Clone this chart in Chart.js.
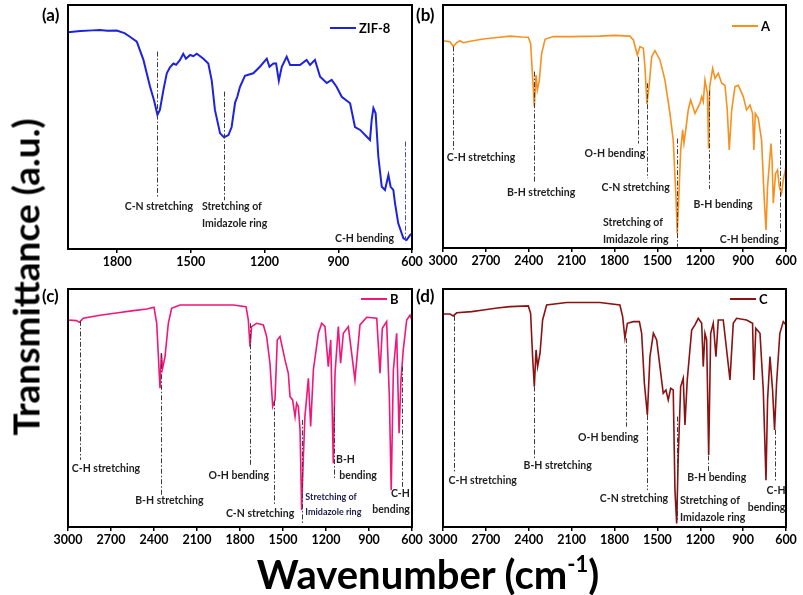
<!DOCTYPE html>
<html>
<head>
<meta charset="utf-8">
<script src="https://cdn.jsdelivr.net/npm/chart.js@4.4.1/dist/chart.umd.min.js"></script>
<style>
body{margin:0;background:#fff;width:803px;height:595px;overflow:hidden;position:relative;font-family:Lato,sans-serif;color:#000}
canvas{position:absolute}
.lab{position:absolute;font-weight:bold;font-size:17px;line-height:17px}
#ytitle{position:absolute;left:25px;top:277px;transform:translate(-50%,-50%) rotate(-90deg);font-size:37px;font-weight:bold;white-space:nowrap}
#xtitle{position:absolute;left:428px;top:574px;transform:translate(-50%,-50%);font-size:40px;font-weight:bold;white-space:nowrap}
#xtitle sup{font-size:22px;vertical-align:17px}
</style>
</head>
<body>
<canvas id="ca" width="384" height="275" style="left:48px;top:0px"></canvas>
<canvas id="cb" width="383" height="274" style="left:423px;top:0px"></canvas>
<canvas id="cc" width="384" height="269" style="left:48px;top:284px"></canvas>
<canvas id="cd" width="383" height="269" style="left:423px;top:284px"></canvas>
<div class="lab" style="left:42px;top:6px">(a)</div>
<div class="lab" style="left:416px;top:6px">(b)</div>
<div class="lab" style="left:42px;top:287px">(c)</div>
<div class="lab" style="left:416px;top:287px">(d)</div>
<div id="ytitle">Transmittance (a.u.)</div>
<div id="xtitle">Wavenumber (cm<sup>-1</sup>)</div>
<script>
// ---- data (transmittance in arbitrary units, 0 = bottom of frame, 100 = top)
var ticksA = [1800, 1500, 1200, 900, 600];
var ticksWide = [3000, 2700, 2400, 2100, 1800, 1500, 1200, 900, 600];

// ZIF-8
var aWn = [2000,1950,1900,1870,1840,1802,1770,1748,1720,1693,1666,1650,1636,1626,1612,1598,1585,1571,1560,1544,1531,1520,1503,1490,1476,1462,1449,1429,1415,1402,1381,1365,1347,1334,1320,1311,1300,1280,1246,1219,1191,1180,1164,1153,1142,1130,1110,1096,1056,1029,1015,995,974,947,927,907,886,852,832,811,784,771,764,757,748,737,723,710,696,687,676,669,656,635,622,608,600];
var aT  = [88.8,89.3,89.6,89.8,89.4,89.5,88.5,87,85,77.5,66.5,61,55,57,65,72,74.5,76,75.5,77.5,80,78,79.5,79,80,79,78,76,69,57,47.4,45.8,46.7,50,60,62.4,66.5,71,72,74.7,78,74.7,76,76,69,74.7,78.8,75.4,75.4,77.5,75.4,77.5,70.6,68,69.3,66.5,62.4,59.7,50,48.8,46,44.7,53,57.7,55.6,37.8,25.5,24.2,30.3,25.5,24.2,18.7,10.5,4.4,3.7,5.7,6.4];

// A
var bWn = [3000,2951,2928,2904,2881,2858,2800,2718,2620,2531,2450,2403,2387,2373,2361,2349,2340,2326,2310,2286,2228,2100,1902,1800,1692,1668,1640,1622,1598,1587,1573,1556,1540,1517,1482,1447,1412,1389,1370,1361,1351,1337,1323,1314,1300,1284,1267,1237,1202,1190,1179,1167,1150,1142,1134,1113,1097,1074,1050,1027,1011,997,980,957,934,899,876,852,834,825,815,794,771,752,740,729,705,697,689,673,659,647,631,619,600];
var bT  = [85.3,84.9,82.9,84.5,85.3,84.5,85.2,86,86.6,87.2,86.8,86.7,84.2,70.5,58.2,71.2,65,69,80,85.9,87,87,87.2,87.5,87.2,85.6,79.4,82.9,82.2,74.6,59.3,67.8,78.7,81.2,77.4,69.1,55.4,44.4,21.1,6,19.8,40.3,48.6,43.1,49.2,56.8,60.9,55.4,59.5,62.3,60.2,69.1,63.6,41,66.4,73.9,69.8,71.9,67.8,67,56.8,40.3,56.8,66.4,67,62.3,56.8,58.8,55.4,40.3,55.4,53.4,44.4,19.8,7.4,25.2,43,35.5,18.4,30.7,32.1,25.2,22.5,28,33.5];

// B
var cWn = [3000,2940,2921,2893,2777,2650,2544,2450,2400,2381,2367,2358,2349,2340,2323,2300,2277,2219,2033,1847,1758,1742,1730,1719,1684,1637,1614,1591,1572,1556,1540,1521,1486,1463,1451,1433,1416,1405,1393,1381,1370,1358,1347,1323,1307,1288,1253,1230,1207,1184,1167,1149,1137,1114,1098,1079,1044,998,963,916,846,823,807,777,758,745,730,707,690,677,661,637,614,600];
var cT  = [87,86.7,86,87.7,89,90,90.9,91.6,92.3,85.6,68.8,58.3,73,66.7,71.6,85.6,91.9,93.3,93.3,93.3,92.6,87,75.8,84.2,85.6,84.9,80,68.8,50.6,53.4,78.6,80,70.2,64.6,54.8,53.4,46.4,52,50.6,40.8,7.1,29.6,46.4,62.5,42.2,66,81.4,85.6,84.2,67.4,78.6,26.8,64.6,84.2,68.8,81.4,84.2,61.8,84.9,88.1,87.7,64.6,83.5,86.3,54.8,15.5,66,81.4,39.4,61.8,74.4,87,89,87];

// C
var dWn = [3000,2951,2928,2904,2800,2718,2620,2531,2403,2387,2373,2361,2349,2338,2321,2303,2275,2135,1902,1762,1743,1727,1710,1668,1626,1610,1591,1570,1552,1528,1505,1482,1459,1440,1424,1407,1389,1377,1365,1354,1337,1319,1307,1291,1260,1237,1214,1190,1179,1167,1155,1141,1127,1109,1090,1074,1039,992,969,946,876,834,825,811,782,759,740,729,712,694,680,666,643,619,600];
var dT  = [89.5,89.5,88.7,90,90.5,91.2,92,92.6,92.9,89.8,71.6,59,74.4,67.4,73,87,93.3,94.3,94.3,93.3,88.4,79.3,85.6,86.3,86.3,81.4,60.4,47.1,71.6,81.4,78.6,67.4,56.2,57.6,53.4,58.3,57.6,15.5,1.5,29.6,59,62.5,42.9,61.8,82.8,84.9,87.7,85.6,67.4,81.4,78.6,30.3,81.4,85.6,71.6,87,87,61.8,85.6,87.7,87,85.6,61.8,83.5,81.4,57.6,19.7,53.4,71.6,57.6,40.8,60.4,81.4,86.3,84.9];

// band marks: [wavenumber, from, to]
var aMarks = [[1639,80.9,21.4],[1365,64.5,20],[628,44,2.3]];
var bMarks = [[2928,82.9,40.3],[2361,72.6,26.9],[1634,78.7,43],[1571,67.8,28.7],[1365,45,0.5],[1137,64.7,24.3],[642,49,6.7]];
var cMarks = [[2916,86.6,28.2],[2353,73,13.4],[1733,85.6,25.4],[1563,53,9.2],[1370,45,1.5],[1147,50.6,19.7],[672,67.4,16.9]];
var dMarks = [[2923,88.7,22.5],[2363,59,28.9],[1722,79.3,42.2],[1570,47,15.5],[1361,46.4,2.9],[1144,30,23],[677,40.8,19]];

// band names: [wavenumber, level, text, align]
var aNames = [[1630,17.3,'C-N stretching','center'],[1455,17.3,'Stretching of','left'],[1455,10.5,'Imidazole ring','left'],[673,4.4,'C-H bending','right']];
var bNames = [[2734,37.4,'C-H stretching','center'],[2314,23,'B-H stretching','center'],[1797,38.7,'O-H bending','center'],[1652,24.7,'C-N stretching','center'],[1880,10.4,'Stretching of','left'],[1880,3.6,'Imidazole ring','left'],[1041,18,'B-H bending','center'],[857,3.6,'C-H bending','center']];
var cNames = [[2735,24.4,'C-H stretching','center'],[2293,10.9,'B-H stretching','center'],[1809,21.7,'O-H bending','center'],[1660,5.7,'C-N stretching','center'],[1344,12.5,'Stretching of','left','s'],[1344,6.4,'Imidazole ring','left','s'],[1130,28.4,'B-H','left'],[1107,21.6,'bending','left'],[681,13.9,'C-H','center'],[746,7.1,'bending','center']];
var dNames = [[2722,19.3,'C-H stretching','center'],[2198,25.8,'B-H stretching','center'],[1843,37.5,'O-H bending','center'],[1664,11.8,'C-N stretching','center'],[1342,10.9,'Stretching of','left'],[1342,3.9,'Imidazole ring','left'],[1085,20.7,'B-H bending','center'],[670,15.3,'C-H','center'],[736,8.3,'bending','center']];

function pts(wn, t) {
  return wn.map(function (w, i) { return { x: w, y: t[i] }; });
}

var framePlugin = {
  id: 'frame',
  afterDatasetsDraw: function (chart) {
    var o = chart.options.plugins.frame;
    var ctx = chart.ctx, xs = chart.scales.x, ys = chart.scales.y, a = chart.chartArea;
    ctx.save();
    // dash-dot band marks
    ctx.lineWidth = 1;
    ctx.setLineDash([5, 2, 1.5, 2]);
    o.marks.forEach(function (m, i) {
      ctx.strokeStyle = (o.lastMarkColor && i == o.marks.length - 1) ? o.lastMarkColor : '#3a3a3a';
      var px = Math.round(xs.getPixelForValue(m[0])) + 0.5;
      ctx.beginPath();
      ctx.moveTo(px, ys.getPixelForValue(m[1]));
      ctx.lineTo(px, ys.getPixelForValue(m[2]));
      ctx.stroke();
    });
    ctx.setLineDash([]);
    // band names
    ctx.textBaseline = 'middle';
    o.names.forEach(function (n) {
      if (n[4] == 's') { ctx.font = 'bold 9px Lato'; ctx.fillStyle = '#1c1c4a'; }
      else { ctx.font = 'bold 10.5px Lato'; ctx.fillStyle = '#1e1e1e'; }
      ctx.textAlign = n[3];
      ctx.fillText(n[2], xs.getPixelForValue(n[0]), ys.getPixelForValue(n[1]));
    });
    // legend
    var lg = o.legend;
    ctx.strokeStyle = chart.data.datasets[0].borderColor;
    ctx.lineWidth = 2;
    ctx.beginPath();
    ctx.moveTo(a.right - lg[0], a.top + lg[2]);
    ctx.lineTo(a.right - lg[1], a.top + lg[2]);
    ctx.stroke();
    ctx.fillStyle = '#000';
    ctx.font = 'bold 13px Lato';
    ctx.textAlign = 'left';
    ctx.fillText(chart.data.datasets[0].label, a.right - lg[1] + 3, a.top + lg[2] + 1);
    // frame
    ctx.strokeStyle = '#000';
    ctx.lineWidth = 2;
    ctx.strokeRect(a.left, a.top, a.right - a.left, a.bottom - a.top);
    ctx.restore();
  }
};

function makePanel(id, label, wn, t, color, width, xmax, ticks, marks, names, legend, lastMarkColor) {
  return new Chart(document.getElementById(id), {
    type: 'line',
    data: {
      datasets: [{
        label: label,
        data: pts(wn, t),
        borderColor: color,
        borderWidth: width,
        pointRadius: 0,
        tension: 0,
        fill: false
      }]
    },
    options: {
      responsive: false,
      animation: false,
      devicePixelRatio: 1,
      layout: { padding: { left: 20, right: 20, top: 5, bottom: 4 } },
      plugins: {
        legend: { display: false },
        tooltip: { enabled: false },
        frame: { marks: marks, names: names, legend: legend, lastMarkColor: lastMarkColor }
      },
      scales: {
        x: {
          type: 'linear',
          reverse: true,
          min: 600,
          max: xmax,
          afterBuildTicks: function (s) { s.ticks = ticks.map(function (v) { return { value: v }; }); },
          afterFit: function (s) { s.height = 22; },
          border: { display: false },
          grid: { drawOnChartArea: false, drawTicks: true, tickLength: 4, color: '#000', lineWidth: 1.5 },
          ticks: { padding: 1, maxRotation: 0, autoSkip: false, color: '#000', font: { family: 'Lato', weight: 'bold', size: 12.5 },
                   callback: function (v) { return String(v); } }
        },
        y: { display: false, min: 0, max: 100 }
      }
    },
    plugins: [framePlugin]
  });
}

makePanel('ca', 'ZIF-8', aWn, aT, '#1c22e0', 2, 2000, ticksA, aMarks, aNames, [82, 56, 23], '#3c4ccc');
makePanel('cb', 'A', bWn, bT, '#f7901e', 1.6, 3000, ticksWide, bMarks, bNames, [54, 28, 21]);
makePanel('cc', 'B', cWn, cT, '#f0167a', 1.6, 3000, ticksWide, cMarks, cNames, [51, 25, 10]);
makePanel('cd', 'C', dWn, dT, '#8b1212', 1.6, 3000, ticksWide, dMarks, dNames, [56, 30, 10]);
</script>
</body>
</html>
